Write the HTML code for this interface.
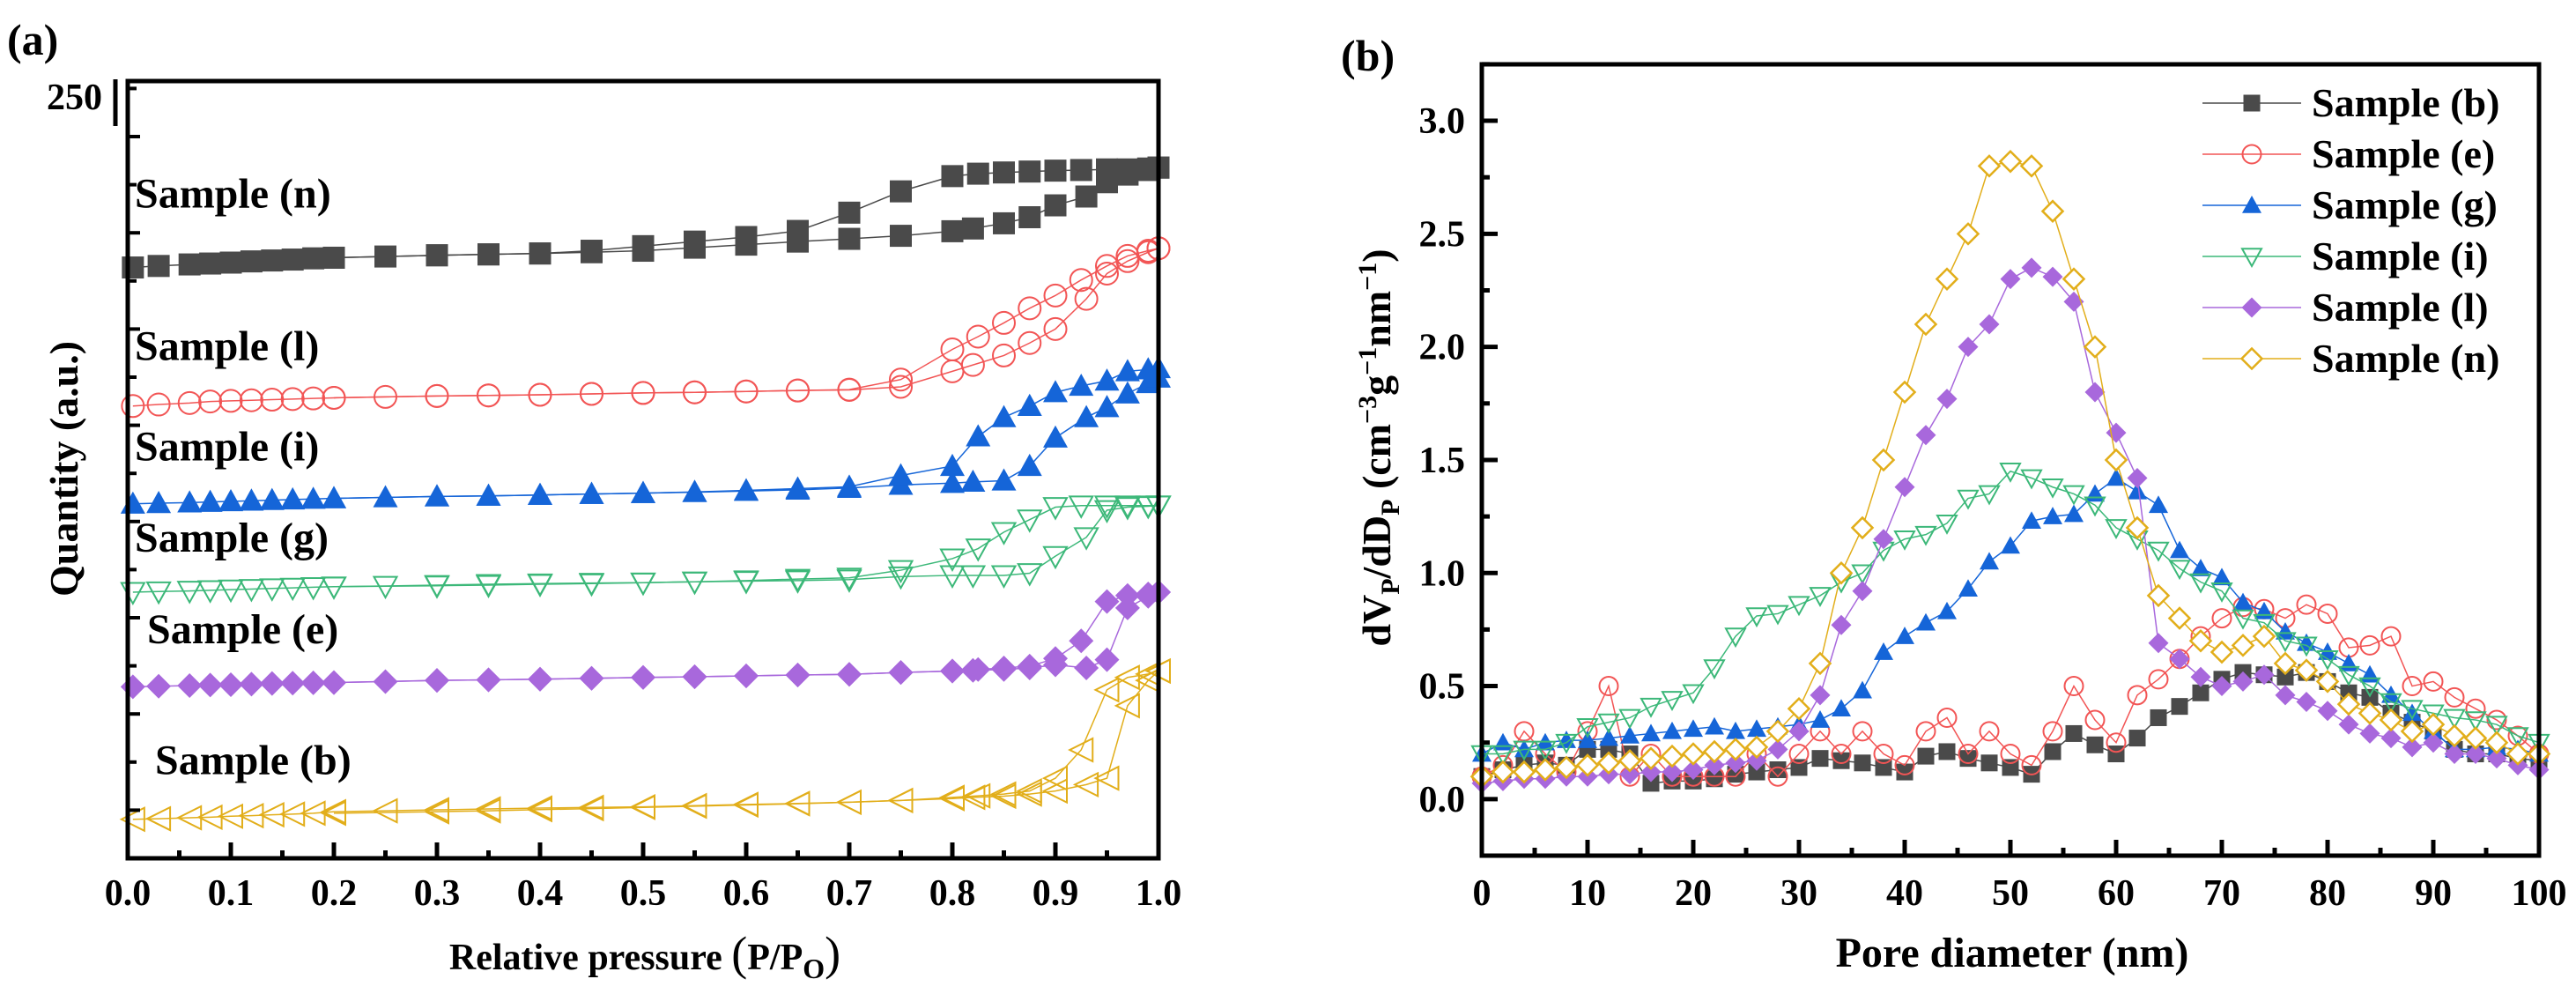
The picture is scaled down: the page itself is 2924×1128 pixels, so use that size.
<!DOCTYPE html>
<html><head><meta charset="utf-8"><style>
html,body{margin:0;padding:0;background:#fff}
svg{display:block}
text{font-family:"Liberation Serif",serif;font-weight:bold;fill:#000}
</style></head><body>
<svg id="fig" width="2924" height="1128" viewBox="0 0 2924 1128" xmlns="http://www.w3.org/2000/svg">
<g id="chartA"></g>
<g id="chartB"></g>
</svg>
<script>
// ---------- Chart (a) data ----------
const aAdsX = [0.005,0.03,0.06,0.08,0.1,0.12,0.14,0.16,0.18,0.2,0.25,0.3,0.35,0.4,0.45,0.5,0.55,0.6,0.65,0.7,0.75,0.8,0.82,0.85,0.875,0.9,0.93,0.95,0.97,0.99,1.0];
const aDesX = [1.0,0.99,0.97,0.95,0.925,0.9,0.875,0.85,0.825,0.8,0.75,0.7,0.65,0.6,0.55,0.5,0.45,0.4,0.35,0.3,0.2];
const aNames = ["Sample (n)","Sample (l)","Sample (i)","Sample (g)","Sample (e)","Sample (b)"];
const aTickLabels = ["0.0","0.1","0.2","0.3","0.4","0.5","0.6","0.7","0.8","0.9","1.0"];
const nAds = [194,194.5,195,195.3,195.6,196,196.3,196.6,197,197.2,197.6,198,198.3,198.6,199,199.5,200.5,201.5,202.5,203.4,204.4,205.9,206.8,208.5,210.5,214.4,217.3,222,224.5,226,226.8];
const nDes = [226.8,226.5,226.2,226.2,226,225.8,225.5,225.2,224.8,224,219,212,206,204,202.5,201,199.5,198.6,198.3,198,197.2];
const lAds = [148.5,149,149.5,150,150.2,150.4,150.6,150.8,151,151.2,151.5,151.8,152,152.2,152.5,152.8,153,153.3,153.6,153.8,154.8,159.9,162,165.1,169.2,173.8,183.7,192,196.1,199,200.3];
const lDes = [200.3,199.5,197.8,194.5,189.9,184.8,180.6,175.8,171.3,167.1,157.2,153.9,153.6,153.3,153,152.8,152.5,152.2,152,151.8,151.2];
const iAds = [116.4,116.6,116.8,117,117.2,117.4,117.6,117.8,118,118.2,118.5,118.8,119,119.3,119.6,119.9,120.2,120.6,121,121.6,122.6,123.2,123.6,124,128.8,138.1,144.8,148.1,152.6,156,157.8];
const iDes = [160.9,160.5,159.9,156.8,155.1,153,148.5,144.8,138.5,128.8,125.7,122,121.4,120.8,120.3,119.9,119.6,119.3,119,118.8,118.2];
const gAds = [87.4,87.6,87.8,88,88.2,88.4,88.6,88.8,89,89.2,89.4,89.7,90,90.2,90.4,90.5,90.8,91,91.2,91.5,92.5,92.9,92.9,92.9,93.6,99.2,105.4,114.3,115.3,115.6,115.8];
const gDes = [115.8,115.8,115.8,115.8,115.8,115.3,111.2,107.1,101.7,98.4,94.6,92.1,91.7,91.2,90.8,90.5,90.2,90,89.7,89.5,89.2];
const eAds = [56.3,56.5,56.7,56.9,57,57.2,57.4,57.5,57.6,57.7,58,58.4,58.6,58.8,59.1,59.4,59.6,59.9,60.2,60.4,61,61.5,61.7,62,62.5,63.5,62.5,65.2,82.2,86,87.4];
const eDes = [87.4,86.8,86.3,84.3,71.4,65.6,63.1,62.5,62,61.5,61,60.4,60.2,59.9,59.6,59.4,59.1,58.8,58.6,58.4,57.7];
const bAds = [12.8,13,13.3,13.5,13.8,14,14.3,14.5,14.8,15.3,15.6,15.9,16.2,16.5,16.7,16.9,17.3,17.7,18,18.4,19,19.6,20,20.4,21.1,22.1,24.2,26.3,50.1,58.4,61.5];
const bDes = [61.5,60.5,59.4,55.3,35.6,26.3,22.1,21.1,20.5,20,19,18.4,17.9,17.5,17.1,16.7,16.3,16,15.6,15.3,14.8];
const aLabelY = [218,168,135,105,75,32];

// ---------- Chart (b) data ----------
const bX = [0,2,4,6,8,10,12,14,16,18,20,22,24,26,28,30,32,34,36,38,40,42,44,46,48,50,52,54,56,58,60,62,64,66,68,70,72,74,76,78,80,82,84,86,88,90,92,94,96,98,100];
const serB = [0.1,0.13,0.15,0.16,0.15,0.22,0.22,0.2,0.07,0.08,0.08,0.09,0.11,0.12,0.13,0.14,0.18,0.17,0.16,0.14,0.12,0.19,0.21,0.18,0.16,0.14,0.11,0.21,0.29,0.24,0.2,0.27,0.36,0.41,0.47,0.53,0.56,0.55,0.54,0.56,0.52,0.47,0.45,0.38,0.34,0.3,0.22,0.2,0.2,0.18,0.17];
const serE = [0.1,0.15,0.3,0.2,0.12,0.3,0.5,0.1,0.2,0.1,0.1,0.1,0.1,0.2,0.1,0.2,0.3,0.2,0.3,0.2,0.15,0.3,0.36,0.2,0.3,0.2,0.15,0.3,0.5,0.35,0.25,0.46,0.53,0.62,0.72,0.8,0.85,0.84,0.8,0.86,0.82,0.67,0.68,0.72,0.5,0.52,0.45,0.4,0.35,0.28,0.2];
const serG = [0.2,0.25,0.22,0.25,0.26,0.26,0.27,0.28,0.29,0.3,0.31,0.32,0.3,0.31,0.32,0.33,0.35,0.4,0.48,0.65,0.72,0.78,0.83,0.93,1.05,1.12,1.23,1.25,1.26,1.35,1.42,1.36,1.3,1.1,1.02,0.98,0.87,0.83,0.74,0.69,0.65,0.6,0.55,0.46,0.38,0.3,0.22,0.22,0.23,0.22,0.2];
const serI = [0.2,0.2,0.22,0.22,0.25,0.32,0.34,0.36,0.41,0.44,0.47,0.58,0.72,0.81,0.82,0.86,0.9,0.96,1.0,1.1,1.15,1.17,1.22,1.33,1.35,1.45,1.42,1.38,1.35,1.3,1.2,1.15,1.1,1.02,0.96,0.92,0.8,0.78,0.7,0.68,0.62,0.55,0.5,0.43,0.4,0.38,0.36,0.35,0.33,0.28,0.25];
const serL = [0.07,0.08,0.09,0.09,0.1,0.1,0.11,0.11,0.12,0.12,0.13,0.15,0.16,0.17,0.22,0.3,0.46,0.77,0.92,1.15,1.38,1.61,1.77,2.0,2.1,2.3,2.35,2.31,2.2,1.8,1.62,1.42,0.69,0.62,0.54,0.5,0.52,0.55,0.46,0.43,0.39,0.33,0.29,0.27,0.23,0.25,0.2,0.2,0.18,0.15,0.13];
const serN = [0.1,0.12,0.12,0.13,0.14,0.15,0.16,0.17,0.18,0.19,0.2,0.21,0.22,0.23,0.3,0.4,0.6,1.0,1.2,1.5,1.8,2.1,2.3,2.5,2.8,2.82,2.8,2.6,2.3,2.0,1.5,1.2,0.9,0.8,0.7,0.65,0.68,0.72,0.6,0.57,0.52,0.42,0.38,0.35,0.3,0.33,0.28,0.27,0.25,0.2,0.2];
const bLegend = ["Sample (b)","Sample (e)","Sample (g)","Sample (i)","Sample (l)","Sample (n)"];
const bXTicks = [0,10,20,30,40,50,60,70,80,90,100];
const bYTicks = [0.0,0.5,1.0,1.5,2.0,2.5,3.0];

const NS = "http://www.w3.org/2000/svg";
function mk(parent, tag, attrs, txt){
  const e = document.createElementNS(NS, tag);
  for (const k in attrs) e.setAttribute(k, attrs[k]);
  if (txt !== undefined) e.textContent = txt;
  parent.appendChild(e);
  return e;
}
function marker(g, type, x, y, s, color){
  let e;
  const h = s/2;
  if (type === "square") e = mk(g,"rect",{x:x-h,y:y-h,width:s,height:s,fill:color});
  else if (type === "circle") e = mk(g,"circle",{cx:x,cy:y,r:h,fill:"#fff","fill-opacity":"0",stroke:color,"stroke-width":2});
  else if (type === "up") e = mk(g,"polygon",{points:`${x},${y-h} ${x+h},${y+h*0.8} ${x-h},${y+h*0.8}`,fill:color});
  else if (type === "down") e = mk(g,"polygon",{points:`${x-h},${y-h*0.8} ${x+h},${y-h*0.8} ${x},${y+h}`,fill:"none",stroke:color,"stroke-width":2});
  else if (type === "diamond") e = mk(g,"polygon",{points:`${x},${y-h} ${x+h},${y} ${x},${y+h} ${x-h},${y}`,fill:color});
  else if (type === "odiamond") e = mk(g,"polygon",{points:`${x},${y-h} ${x+h},${y} ${x},${y+h} ${x-h},${y}`,fill:"#fff",stroke:color,"stroke-width":2.5});
  else if (type === "left") e = mk(g,"polygon",{points:`${x-h},${y} ${x+h},${y-h} ${x+h},${y+h}`,fill:"none",stroke:color,"stroke-width":2});
  
  
}

// ---------- Chart (a) ----------
(function(){
  const g = document.getElementById("chartA");
  const L=145,R=1315,T=92,B=974;
  const sx = v => L + v*(R-L);
  const sy = v => B - v*3.456;
  const pl = mk(g,"text",{x:8,y:62,"font-size":50,"font-weight":"normal"},"(a)");
  
  
  const series = [
    {ads:nAds,des:nDes,c:"#4a4a4a",m:"square",s:25},
    {ads:lAds,des:lDes,c:"#f25555",m:"circle",s:25},
    {ads:iAds,des:iDes,c:"#1565d8",m:"up",s:28},
    {ads:gAds,des:gDes,c:"#3cb879",m:"down",s:26},
    {ads:eAds,des:eDes,c:"#a868dc",m:"diamond",s:28},
    {ads:bAds,des:bDes,c:"#e2ae1a",m:"left",s:26}
  ];
  series.forEach((s,k)=>{
    const sg = mk(g,"g",{});
    
    
    const p1 = aAdsX.map((x,i)=>`${sx(x)},${sy(s.ads[i])}`).join(" ");
    const p2 = aDesX.map((x,i)=>`${sx(x)},${sy(s.des[i])}`).join(" ");
    mk(sg,"polyline",{points:p1,fill:"none",stroke:s.c,"stroke-width":1.5});
    mk(sg,"polyline",{points:p2,fill:"none",stroke:s.c,"stroke-width":1.5});
    aAdsX.forEach((x,i)=>marker(sg,s.m,sx(x),sy(s.ads[i]),s.s,s.c));
    aDesX.forEach((x,i)=>marker(sg,s.m,sx(x),sy(s.des[i]),s.s,s.c));
    const lb = mk(g,"text",{x:k>=4?(k===4?167:176):153,y:sy(aLabelY[k])+15,"font-size":48},aNames[k]);
    
    
  });
  const fr = mk(g,"rect",{x:L,y:T,width:R-L,height:B-T,fill:"none",stroke:"#000","stroke-width":5});
  
  
  for (let k=0;k<=20;k++){
    const x = sx(k/20);
    mk(g,"line",{x1:x,y1:B,x2:x,y2:B-(k%2?9:18),stroke:"#000","stroke-width":5});
  }
  aTickLabels.forEach((t,k)=>{
    const tl = mk(g,"text",{x:sx(k/10),y:1027,"font-size":42,"text-anchor":"middle"},t);
    
    
  });
  for (let k=1;k<=16;k++){
    const y = B - k*54.6;
    mk(g,"line",{x1:L,y1:y,x2:L+(k%2?14:10),y2:y,stroke:"#000","stroke-width":4});
  }
  mk(g,"line",{x1:131,y1:90,x2:131,y2:143,stroke:"#000","stroke-width":5});
  const t250 = mk(g,"text",{x:116,y:124,"font-size":42,"text-anchor":"end"},"250");
  
  
  const xt = mk(g,"text",{x:732,y:1100,"font-size":42,"text-anchor":"middle"});
  
  
  xt.innerHTML = 'Relative pressure <tspan font-size="54" font-weight="normal">(</tspan>P/P<tspan font-size="32" dy="10">O</tspan><tspan font-size="54" font-weight="normal" dy="-10">)</tspan>';
  const yt = mk(g,"text",{x:0,y:0,"font-size":46,"text-anchor":"middle",transform:"translate(88,532) rotate(-90)"},"Quantity (a.u.)");
  
  
})();

// ---------- Chart (b) ----------
(function(){
  const g = document.getElementById("chartB");
  const L=1682,R=2882,T=73,B=971;
  const sx = v => L + v*(R-L)/100;
  const sy = v => B - (v+0.25)*256.6;
  const pl = mk(g,"text",{x:1522,y:80,"font-size":50},"(b)");
  
  
  const series = [
    {v:serB,c:"#4a4a4a",m:"square",s:19},
    {v:serE,c:"#f25555",m:"circle",s:21},
    {v:serG,c:"#1565d8",m:"up",s:22},
    {v:serI,c:"#3cb879",m:"down",s:22},
    {v:serL,c:"#a868dc",m:"diamond",s:23},
    {v:serN,c:"#e2ae1a",m:"odiamond",s:23}
  ];
  series.forEach((s,k)=>{
    const sg = mk(g,"g",{});
    
    
    mk(sg,"polyline",{points:bX.map((x,i)=>`${sx(x)},${sy(s.v[i])}`).join(" "),fill:"none",stroke:s.c,"stroke-width":1.5});
    bX.forEach((x,i)=>marker(sg,s.m,sx(x),sy(s.v[i]),s.s,s.c));
    const ly = 117 + k*58;
    const le = mk(g,"g",{});
    
    
    mk(le,"line",{x1:2500,y1:ly,x2:2612,y2:ly,stroke:s.c,"stroke-width":1.5});
    marker(le,s.m,2556,ly,s.s,s.c);
    mk(le,"text",{x:2624,y:ly+15,"font-size":46},bLegend[k]);
  });
  const fr = mk(g,"rect",{x:L,y:T,width:R-L,height:B-T,fill:"none",stroke:"#000","stroke-width":5});
  
  
  for (let k=0;k<=20;k++){
    const x = sx(k*5);
    mk(g,"line",{x1:x,y1:B,x2:x,y2:B-(k%2?9:18),stroke:"#000","stroke-width":5});
  }
  bXTicks.forEach(t=>{
    const tl = mk(g,"text",{x:sx(t),y:1027,"font-size":42,"text-anchor":"middle"},String(t));
    
    
  });
  for (let k=-1;k<=13;k++){
    const y = sy(k*0.25);
    mk(g,"line",{x1:L,y1:y,x2:L+(k%2?9:18),y2:y,stroke:"#000","stroke-width":5});
  }
  bYTicks.forEach(t=>{
    const tl = mk(g,"text",{x:1663,y:sy(t)+14,"font-size":42,"text-anchor":"end"},t.toFixed(1));
    
    
  });
  const xt = mk(g,"text",{x:2284,y:1097,"font-size":48,"text-anchor":"middle"},"Pore diameter (nm)");
  
  
  const yt = mk(g,"text",{x:0,y:0,"font-size":46,"text-anchor":"middle",transform:"translate(1578,508) rotate(-90)"});
  
  
  yt.innerHTML = 'dV<tspan font-size="30" dy="10">P</tspan><tspan dy="-10">/dD</tspan><tspan font-size="30" dy="10">P</tspan><tspan dy="-10"> (cm</tspan><tspan font-size="30" dy="-16">−3</tspan><tspan dy="16">g</tspan><tspan font-size="30" dy="-16">−1</tspan><tspan dy="16">nm</tspan><tspan font-size="30" dy="-16">−1</tspan><tspan dy="16">)</tspan>';
})();
</script>
</body></html>
